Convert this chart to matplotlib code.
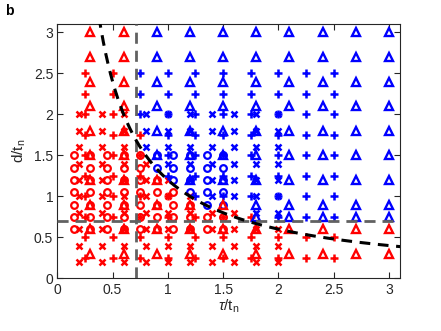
import matplotlib
matplotlib.use("Agg")
import matplotlib.pyplot as plt
import numpy as np

# ---- data ----
tri_tau = [0.3, 0.6, 0.9, 1.2, 1.5, 1.8, 2.1, 2.4, 2.7, 3.0]
tri_d = [0.3, 0.6, 0.9, 1.2, 1.5, 1.8, 2.1, 2.4, 2.7, 3.0]
tri_extra_tau = [1.8, 2.1, 2.4, 2.7, 3.0]
tri_extra_d = [0.75]

cross_tau = [0.2, 0.4, 0.6, 0.8, 1.0, 1.2, 1.4, 1.6, 1.8, 2.0]
cross_d = [0.2, 0.4, 0.6, 0.8, 1.0, 1.2, 1.4, 1.6, 1.8, 2.0]

plus_tau = [0.25, 0.5, 0.75, 1.0, 1.25, 1.5, 1.75, 2.0, 2.25, 2.5]
plus_d = [0.25, 0.5, 0.75, 1.0, 1.25, 1.5, 1.75, 2.0, 2.25, 2.5]

circ_tau = [0.15, 0.3, 0.45, 0.6, 0.75, 0.9, 1.05, 1.2, 1.35, 1.5]
circ_d = [0.6, 0.75, 0.9, 1.05, 1.2, 1.35, 1.5]

# boundaries
tau_crit = 0.71
d_crit = 0.7
curve_c = 1.2
# points read as red although above the curve
red_exceptions = [("tri", 1.5, 0.9), ("cross", 1.6, 0.8),
                  ("plus", 1.75, 0.75), ("plus", 0.75, 1.75)]

x_ticks = [0, 0.5, 1, 1.5, 2, 2.5, 3]
y_ticks = [0, 0.5, 1, 1.5, 2, 2.5, 3]

RED = (1, 0, 0)
BLUE = (0, 0, 1)
AX_COL = (0.15, 0.15, 0.15)

plt.rcParams['font.family'] = ['Liberation Sans', 'DejaVu Sans']
plt.rcParams['mathtext.fontset'] = 'custom'
plt.rcParams['mathtext.rm'] = 'Liberation Sans'
plt.rcParams['mathtext.it'] = 'Liberation Sans:italic'

fig = plt.figure(figsize=(4.41, 3.31), dpi=100)
ax = fig.add_axes([0.130, 0.159, 0.777, 0.768])


def is_blue(kind, t, d):
    for k, et, ed in red_exceptions:
        if k == kind and abs(et - t) < 1e-6 and abs(ed - d) < 1e-6:
            return False
    return t > tau_crit and d > d_crit and d > curve_c / t


def draw(kind, taus, ds, marker, ms, mew, fill='none'):
    for col, want in ((RED, False), (BLUE, True)):
        xs, ys = [], []
        for t in taus:
            for d in ds:
                if is_blue(kind, t, d) == want:
                    xs.append(t)
                    ys.append(d)
        ax.plot(xs, ys, linestyle='none', marker=marker, ms=ms, mew=mew,
                mec=col, mfc=fill, color=col, zorder=3, clip_on=False)


draw("cross", cross_tau, cross_d, 'x', 3.8, 1.8)
draw("plus", plus_tau, plus_d, '+', 5.6, 1.8)
draw("circ", circ_tau, circ_d, 'o', 4.8, 1.6)
draw("tri", tri_tau, tri_d, '^', 6.0, 1.7)
draw("tri", tri_extra_tau, tri_extra_d, '^', 6.0, 1.7)

# reference lines
ax.axvline(tau_crit, color=(0.38, 0.38, 0.38), lw=2.0, ls=(0, (4, 2.5)), zorder=4)
ax.axhline(d_crit, color=(0.38, 0.38, 0.38), lw=2.0, ls=(0, (4, 2.5)), zorder=4)
tc = np.linspace(0.3, 3.2, 400)
ax.plot(tc, curve_c / tc, color='k', lw=2.2, ls=(0, (3.5, 2.5)), zorder=5)

ax.set_xlim(0, 3.1)
ax.set_ylim(0, 3.1)
ax.set_xticks(x_ticks)
ax.set_yticks(y_ticks)
ax.set_xticklabels([f"{v:g}" for v in x_ticks])
ax.set_yticklabels([f"{v:g}" for v in y_ticks])
ax.tick_params(direction='in', length=4, width=0.8, top=True, right=True,
               colors=AX_COL, labelsize=10, pad=3)
for s in ax.spines.values():
    s.set_color(AX_COL)
    s.set_linewidth(0.8)

ax.set_xlabel(r'$\tau$/t$_{\rm n}$', fontsize=11, color=AX_COL, labelpad=1)
ax.set_ylabel(r'd/t$_{\rm n}$', fontsize=11, color=AX_COL, labelpad=4)
fig.text(0.012, 0.968, 'b', fontsize=10, fontweight='bold', ha='left', va='center')

fig.savefig('out.png', dpi=100)
